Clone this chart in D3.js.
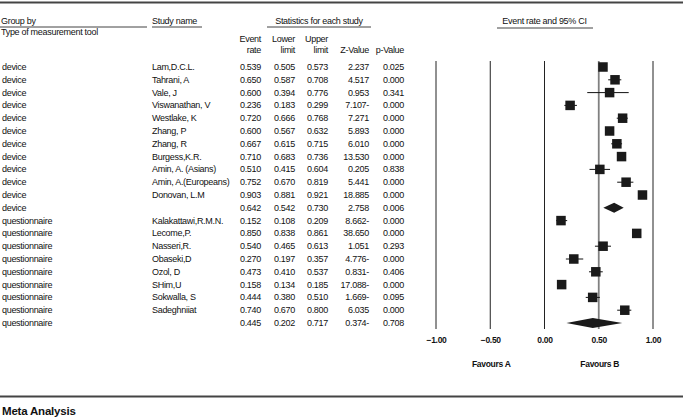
<!DOCTYPE html>
<html>
<head>
<meta charset="utf-8">
<script src="https://cdn.jsdelivr.net/npm/d3@7"></script>
<style>
  body { margin: 0; background: #fff; }
  text { font-family: "Liberation Sans", Arial, Helvetica, sans-serif; fill: #111; }
</style>
</head>
<body>
<div id="chart"></div>
<script>
// Data
//-----------
var groups = ["device","device","device","device","device","device","device","device","device","device","device","device",
  "questionnaire","questionnaire","questionnaire","questionnaire","questionnaire","questionnaire","questionnaire","questionnaire","questionnaire"];
var studies = ["Lam,D.C.L.","Tahrani, A","Vale, J","Viswanathan, V","Westlake, K","Zhang, P","Zhang, R","Burgess,K.R.",
  "Amin, A. (Asians)","Amin, A.(Europeans)","Donovan, L.M","",
  "Kalakattawi,R.M.N.","Lecome,P.","Nasseri,R.","Obaseki,D","Ozol, D","SHim,U","Sokwalla, S","Sadeghniiat",""];
var eventRate = [0.539,0.650,0.600,0.236,0.720,0.600,0.667,0.710,0.510,0.752,0.903,0.642,
  0.152,0.850,0.540,0.270,0.473,0.158,0.444,0.740,0.445];
var lowerLimit = [0.505,0.587,0.394,0.183,0.666,0.567,0.615,0.683,0.415,0.670,0.881,0.542,
  0.108,0.838,0.465,0.197,0.410,0.134,0.380,0.670,0.202];
var upperLimit = [0.573,0.708,0.776,0.299,0.768,0.632,0.715,0.736,0.604,0.819,0.921,0.730,
  0.209,0.861,0.613,0.357,0.537,0.185,0.510,0.800,0.717];
var zValue = ["2.237","4.517","0.953","7.107-","7.271","5.893","6.010","13.530","0.205","5.441","18.885","2.758",
  "8.662-","38.650","1.051","4.776-","0.831-","17.088-","1.669-","6.035","0.374-"];
var pValue = ["0.025","0.000","0.341","0.000","0.000","0.000","0.000","0.000","0.838","0.000","0.000","0.006",
  "0.000","0.000","0.293","0.000","0.406","0.000","0.095","0.000","0.708"];
var summaryRows = [11, 20];
var tickVals = [-1, -0.5, 0, 0.5, 1];

// Layout
//-----------
var w = 685, h = 419;
var top0 = 67, top1 = 323;

var svg = d3.select("#chart").append("svg")
  .attr("width", w).attr("height", h);

var xScale = d3.scaleLinear([-1, 1], [436, 653]);
var yScale = d3.scalePoint(d3.range(groups.length), [top0, top1]);

function txt(x, y, s, anchor, size, weight) {
  return svg.append("text")
    .attr("x", x).attr("y", y)
    .attr("text-anchor", anchor || "start")
    .attr("font-size", (size || 9) + "px")
    .attr("font-weight", weight || "normal")
    .attr("letter-spacing", "-0.3px")
    .text(s);
}
function hline(x1, x2, y, sw, col) {
  svg.append("line").attr("x1", x1).attr("x2", x2).attr("y1", y).attr("y2", y)
    .attr("stroke", col || "#111").attr("stroke-width", sw || 0.8);
}

// Frame lines
hline(0, 683, 2.5, 2, "#444");
hline(0, 683, 396.5, 2, "#444");
txt(2, 415, "Meta Analysis", "start", 11.5, "bold").attr("letter-spacing", "-0.2px");

// Headers
//-----------
txt(1, 24, "Group by");
hline(0, 147, 27);
txt(1, 35, "Type of measurement tool");
txt(152, 24, "Study name");
hline(152, 202, 27);
txt(319, 24, "Statistics for each study", "middle");
hline(267, 371, 27);
txt(xScale(0), 24, "Event rate and 95% CI", "middle");
hline(497, 593, 28);

var colX = [261, 295, 328, 369, 404];
var head1 = ["Event", "Lower", "Upper", "", ""];
var head2 = ["rate", "limit", "limit", "Z-Value", "p-Value"];
colX.forEach(function(x, i) {
  if (head1[i]) txt(x, 42, head1[i], "end");
  txt(x, 53, head2[i], "end");
});

// Table rows
//-----------
var fmt = d3.format(".3f");
groups.forEach(function(g, i) {
  var y = yScale(i) + 3;
  txt(2, y, g);
  if (studies[i]) txt(152, y, studies[i]);
  txt(colX[0], y, fmt(eventRate[i]), "end");
  txt(colX[1], y, fmt(lowerLimit[i]), "end");
  txt(colX[2], y, fmt(upperLimit[i]), "end");
  txt(colX[3], y, zValue[i], "end");
  txt(colX[4], y, pValue[i], "end");
});

// Forest plot
//-----------
var lineTop = 61, lineBot = 329;
svg.selectAll("line.grid")
  .data(tickVals)
  .enter().append("line")
  .attr("class", "grid")
  .attr("x1", function(d) { return xScale(d); })
  .attr("x2", function(d) { return xScale(d); })
  .attr("y1", lineTop).attr("y2", lineBot)
  .attr("stroke", function(d) { return d === 0.5 ? "#808080" : "#222"; })
  .attr("stroke-width", function(d) { return d === 0.5 ? 1.8 : 1; });

var axis = d3.axisBottom(xScale).tickValues(tickVals).tickSize(0).tickFormat(d3.format(".2f"));
var ax = svg.append("g").attr("transform", "translate(0,334)").call(axis);
ax.select(".domain").remove();
ax.selectAll("text")
  .attr("font-size", "8.5px").attr("font-weight", "bold")
  .attr("letter-spacing", "-0.3px")
  .style("font-family", "'Liberation Sans', Arial, sans-serif")
  .attr("fill", "#111");

txt(xScale(-0.5) + 1, 367, "Favours A", "middle", 8.5, "bold");
txt(xScale(0.5) + 1, 367, "Favours B", "middle", 8.5, "bold");

var studyIdx = d3.range(groups.length).filter(function(i) { return summaryRows.indexOf(i) < 0; });

// CI lines
svg.selectAll("line.ci")
  .data(studyIdx)
  .enter().append("line")
  .attr("class", "ci")
  .attr("x1", function(i) { return xScale(lowerLimit[i]); })
  .attr("x2", function(i) { return xScale(upperLimit[i]); })
  .attr("y1", function(i) { return yScale(i); })
  .attr("y2", function(i) { return yScale(i); })
  .attr("stroke", "#111").attr("stroke-width", 1);

// Squares
var sq = 9.5;
svg.selectAll("rect.study")
  .data(studyIdx)
  .enter().append("rect")
  .attr("class", "study")
  .attr("x", function(i) { return xScale(eventRate[i]) - sq / 2; })
  .attr("y", function(i) { return yScale(i) - sq / 2; })
  .attr("width", sq).attr("height", sq)
  .attr("fill", "#1a1a1a");

// Diamonds
svg.selectAll("path.summary")
  .data(summaryRows)
  .enter().append("path")
  .attr("class", "summary")
  .attr("d", function(i) {
    var y = yScale(i), hh = 5;
    return "M" + xScale(lowerLimit[i]) + "," + y +
      "L" + xScale(eventRate[i]) + "," + (y - hh) +
      "L" + xScale(upperLimit[i]) + "," + y +
      "L" + xScale(eventRate[i]) + "," + (y + hh) + "Z";
  })
  .attr("fill", "#1a1a1a");
</script>
</body>
</html>
